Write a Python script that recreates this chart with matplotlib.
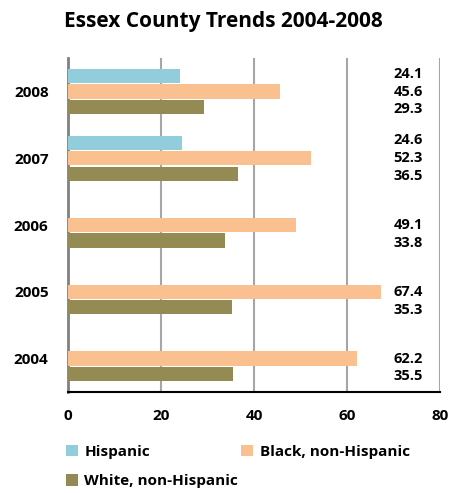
import numpy as np
import matplotlib
matplotlib.use('Agg')
import matplotlib.pyplot as plt

# Data
years = ['2004', '2005', '2006', '2007', '2008']
hispanic = [np.nan, np.nan, np.nan, 24.6, 24.1]
black = [62.2, 67.4, 49.1, 52.3, 45.6]
white = [35.5, 35.3, 33.8, 36.5, 29.3]
x_ticks = [0, 20, 40, 60, 80]

plt.rcParams['font.family'] = ['Open Sans', 'DejaVu Sans']
plt.rcParams['font.weight'] = 'bold'

fig = plt.figure(figsize=(4.55, 4.93), dpi=100)
ax = fig.add_axes([0.1495, 0.205, 0.8175, 0.677])

pos = np.arange(len(years))
h = 0.215
off = 0.232
series = [
    ('Hispanic', hispanic, '#92CDDC', off),
    ('Black, non-Hispanic', black, '#FAC090', 0),
    ('White, non-Hispanic', white, '#948A54', -off),
]
bars = {}
for name, vals, col, o in series:
    bars[name] = ax.barh(pos + o, vals, height=h, color=col, label=name, zorder=3)
    for p, v in zip(pos, vals):
        if not np.isnan(v):
            ax.text(76.3, p + o * 1.15, f'{v:.1f}', ha='right', va='center',
                    fontsize=10.5, fontweight='bold', zorder=4)

ax.set_xlim(0, 80)
ax.set_ylim(-0.5, 4.5)
ax.set_xticks(x_ticks)
ax.set_yticks(pos)
ax.set_yticklabels(years)
ax.tick_params(axis='both', length=0, labelsize=11)
ax.tick_params(axis='x', pad=12)
ax.tick_params(axis='y', pad=14)
for lab in ax.get_xticklabels() + ax.get_yticklabels():
    lab.set_fontweight('bold')
ax.grid(axis='x', color='#A6A6A6', linewidth=1.5, zorder=0)
for s in ['top', 'right']:
    ax.spines[s].set_visible(False)
ax.spines['left'].set_color('#808080')
ax.spines['left'].set_linewidth(2)
ax.spines['bottom'].set_color('black')
ax.spines['bottom'].set_linewidth(1.5)

fig.suptitle('Essex County Trends 2004-2008', x=0.492, y=0.978, fontsize=15, fontweight='bold')

order = ['Hispanic', 'White, non-Hispanic', 'Black, non-Hispanic']
fig.legend([bars[n] for n in order], order, loc='lower left',
           bbox_to_anchor=(0.115, -0.018), ncol=2, frameon=False,
           prop={'size': 11, 'weight': 'bold'}, handlelength=0.8, handleheight=0.8,
           handletextpad=0.4, columnspacing=0.2, labelspacing=1.0)

fig.savefig('out.png', dpi=100)
